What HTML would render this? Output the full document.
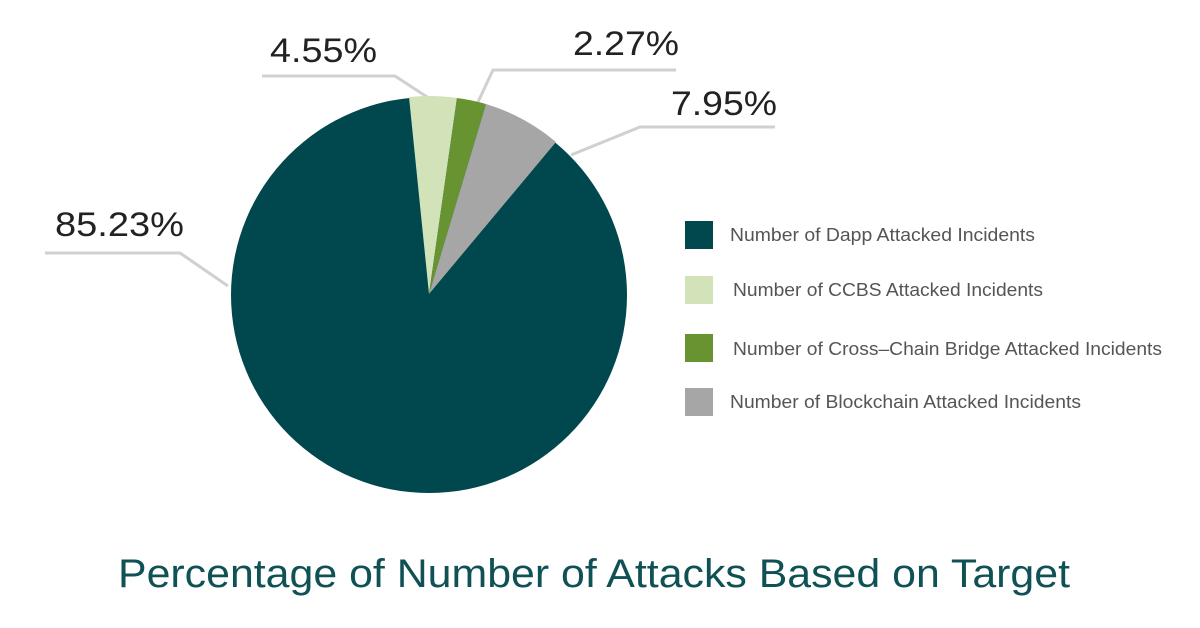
<!DOCTYPE html>
<html><head><meta charset="utf-8"><style>
html,body{margin:0;padding:0;background:#fff;}
svg{display:block;}
text{font-family:"Liberation Sans",sans-serif;}
</style></head><body>
<svg width="1200" height="628" viewBox="0 0 1200 628" xmlns="http://www.w3.org/2000/svg">
<g stroke="#d0d0d0" stroke-width="3" fill="none">
<polyline points="262,76 395,76 447,110"/>
<polyline points="676,70 493,70 478,102"/>
<polyline points="775,127 640,127 571,155"/>
<polyline points="45,253 180,253 228,286"/>
</g>
<circle cx="429" cy="295" r="198" fill="#01474e"/>
<path d="M429,294 L409,97 A198,198 0 0 1 457,98 Z" fill="#d2e2b9"/>
<path d="M429,294 L457,98 A198,198 0 0 1 486,104 Z" fill="#679331"/>
<path d="M429,294 L486,104 A198,198 0 0 1 556,142 Z" fill="#a6a6a6"/>
<g font-size="34" fill="#222">
<text x="270" y="62" textLength="107" lengthAdjust="spacingAndGlyphs">4.55%</text>
<text x="573" y="55" textLength="106" lengthAdjust="spacingAndGlyphs">2.27%</text>
<text x="671" y="115" textLength="106" lengthAdjust="spacingAndGlyphs">7.95%</text>
<text x="55" y="236" textLength="129" lengthAdjust="spacingAndGlyphs">85.23%</text>
</g>
<rect x="685" y="221" width="28" height="28" fill="#01474e"/>
<rect x="685" y="276" width="28" height="28" fill="#d2e2b9"/>
<rect x="685" y="334" width="28" height="28" fill="#679331"/>
<rect x="685" y="388" width="28" height="28" fill="#a6a6a6"/>
<g font-size="18" fill="#555">
<text x="730" y="241" textLength="305" lengthAdjust="spacingAndGlyphs">Number of Dapp Attacked Incidents</text>
<text x="733" y="296" textLength="310" lengthAdjust="spacingAndGlyphs">Number of CCBS Attacked Incidents</text>
<text x="733" y="355" textLength="429" lengthAdjust="spacingAndGlyphs">Number of Cross–Chain Bridge Attacked Incidents</text>
<text x="730" y="408" textLength="351" lengthAdjust="spacingAndGlyphs">Number of Blockchain Attacked Incidents</text>
</g>
<text x="118" y="587" font-size="40" fill="#0f5155" textLength="952" lengthAdjust="spacingAndGlyphs">Percentage of Number of Attacks Based on Target</text>
</svg>
</body></html>
